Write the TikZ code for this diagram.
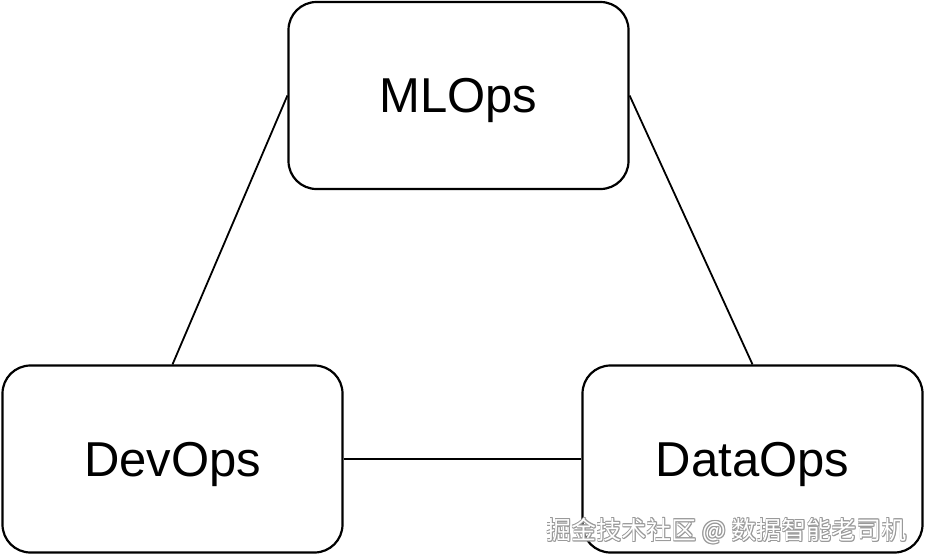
\documentclass[tikz,border=0pt]{standalone}
\usepackage{fontspec}
\setmainfont{Liberation Sans}
\newfontfamily\cjk{Noto Sans CJK SC}
\begin{document}
\begin{tikzpicture}[x=1pt,y=-1pt,
  opsbox/.style={draw=black, line width=2.2pt, rounded corners=28pt, fill=white,
    minimum width=340pt, minimum height=187pt, inner sep=0pt, text depth=0pt,
    font=\fontsize{49}{49}\selectfont},
  link/.style={draw=black, line width=1.8pt},
  wmshadow/.style={text=gray!80, font=\cjk\fontsize{25}{25}\selectfont, inner sep=0pt},
  wm/.style={text=white, font=\cjk\fontsize{25}{25}\selectfont, inner sep=0pt}]
\useasboundingbox (0,0) rectangle (925,557);
\fill[white] (0,0) rectangle (925,557);
\node[opsbox] (ml) at (458.5,95.5) {MLOps};
\node[opsbox] (dev) at (172.5,459) {DevOps};
\node[opsbox] (data) at (752.5,459) {DataOps};
\draw[link] (ml.west) -- (dev.north);
\draw[link] (ml.east) -- (data.north);
\draw[link] (dev.east) -- (data.west);
\foreach \dx/\dy in {-0.8/0,0.8/0,0/-0.8,0/0.8,0.6/0.6,-0.6/-0.6,0.6/-0.6,-0.6/0.6}{
  \node[wmshadow, anchor=east] at (907+\dx,531+\dy) {掘金技术社区 @ 数据智能老司机};
}
\node[wm, anchor=east] (wmark) at (907,531) {掘金技术社区 @ 数据智能老司机};
\end{tikzpicture}
\end{document}
